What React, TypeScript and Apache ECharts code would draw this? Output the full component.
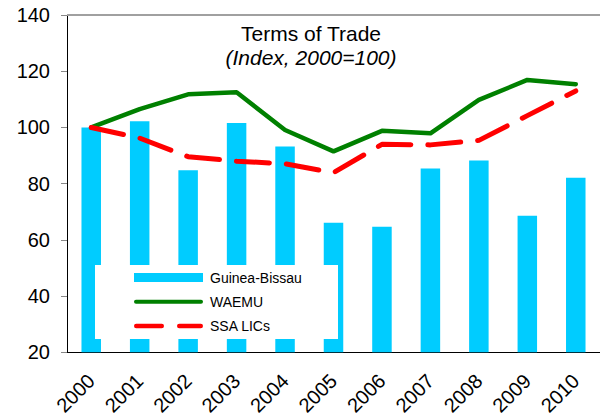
import React, { useEffect, useRef } from "react";
import * as echarts from "echarts";

const years = ["2000", "2001", "2002", "2003", "2004", "2005", "2006", "2007", "2008", "2009", "2010"];
const guineaBissau = [100, 102.2, 84.8, 101.6, 93.2, 66.1, 64.7, 85.4, 88.2, 68.6, 82.1];
const waemu = [100, 106.5, 111.8, 112.5, 99.1, 91.5, 98.8, 97.9, 109.8, 116.9, 115.4];
const ssaLics = [100, 96.2, 89.6, 88.0, 87.1, 83.9, 94.0, 93.8, 95.4, 104.2, 113.0];
const seriesNames = ["Guinea-Bissau", "WAEMU", "SSA LICs"];
const titleText = "Terms of Trade";
const subtitleText = "(Index, 2000=100)";

const FONT = 'Arial, "Liberation Sans", Helvetica, sans-serif';
const BLUE = "#00CCFF";
const GREEN = "#008000";
const RED = "#FF0000";

export default function App() {
  const ref = useRef<HTMLDivElement>(null);
  useEffect(() => {
    if (!ref.current) return;
    const chart = echarts.init(ref.current, undefined, { renderer: "svg" });
    chart.setOption({
      animation: false,
      backgroundColor: "#fff",
      grid: { left: 67, right: 0, top: 15, bottom: 65, containLabel: false },
      xAxis: {
        type: "category",
        data: years,
        boundaryGap: true,
        axisLine: { show: true, lineStyle: { color: "#000", width: 1 } },
        axisTick: { show: false },
        axisLabel: {
          rotate: 45,
          fontSize: 20,
          fontFamily: FONT,
          color: "#000",
          margin: 25,
          interval: 0,
        },
        splitLine: { show: false },
      },
      yAxis: {
        type: "value",
        min: 20,
        max: 140,
        interval: 20,
        axisLine: { show: true, lineStyle: { color: "#000", width: 1 } },
        axisTick: { show: true, length: 6, lineStyle: { color: "#888" } },
        axisLabel: { fontSize: 20, fontFamily: FONT, color: "#000", margin: 17 },
        splitLine: { show: false },
      },
      series: [
        {
          name: seriesNames[0],
          type: "bar",
          data: guineaBissau,
          barWidth: 19.5,
          itemStyle: { color: BLUE },
          z: 1,
          markLine: {
            silent: true,
            symbol: "none",
            label: { show: false },
            lineStyle: { color: "#a0a0a0", width: 2, type: "solid" },
            data: [{ yAxis: 140 }],
          },
        },
        {
          name: seriesNames[1],
          type: "line",
          data: waemu,
          symbol: "none",
          lineStyle: { color: GREEN, width: 4.5, cap: "round", join: "round" },
          itemStyle: { color: GREEN },
          z: 3,
        },
        {
          name: seriesNames[2],
          type: "line",
          data: ssaLics,
          symbol: "none",
          lineStyle: { color: RED, width: 5, type: [33, 17], cap: "round", join: "round" },
          itemStyle: { color: RED },
          z: 4,
        },
      ],
      graphic: [
        {
          type: "text",
          x: 311,
          y: 33,
          z: 100,
          style: {
            text: titleText,
            font: `21px ${FONT}`,
            fill: "#000",
            textAlign: "center",
            textVerticalAlign: "middle",
            align: "center",
            verticalAlign: "middle",
          },
        },
        {
          type: "text",
          x: 311,
          y: 57,
          z: 100,
          style: {
            text: subtitleText,
            font: `italic 21px ${FONT}`,
            fill: "#000",
            textAlign: "center",
            textVerticalAlign: "middle",
            align: "center",
            verticalAlign: "middle",
          },
        },
        {
          type: "group",
          z: 100,
          children: [
            { type: "rect", shape: { x: 95, y: 265, width: 243, height: 74 }, style: { fill: "#fff" }, z: 100 },
            { type: "rect", shape: { x: 134, y: 273, width: 69, height: 9 }, style: { fill: BLUE }, z: 101 },
            {
              type: "line",
              shape: { x1: 136, y1: 301.7, x2: 201, y2: 301.7 },
              style: { stroke: GREEN, lineWidth: 4, lineCap: "round" },
              z: 101,
            },
            {
              type: "line",
              shape: { x1: 136.25, y1: 326, x2: 200.75, y2: 326 },
              style: { stroke: RED, lineWidth: 4.5, lineCap: "round", lineDash: [25.5, 17.5] },
              z: 101,
            },
            {
              type: "text",
              x: 210,
              y: 277.7,
              z: 101,
              style: { text: seriesNames[0], font: `14px ${FONT}`, fill: "#000", verticalAlign: "middle", textVerticalAlign: "middle" },
            },
            {
              type: "text",
              x: 210,
              y: 301.7,
              z: 101,
              style: { text: seriesNames[1], font: `14px ${FONT}`, fill: "#000", verticalAlign: "middle", textVerticalAlign: "middle" },
            },
            {
              type: "text",
              x: 210,
              y: 326,
              z: 101,
              style: { text: seriesNames[2], font: `14px ${FONT}`, fill: "#000", verticalAlign: "middle", textVerticalAlign: "middle" },
            },
          ],
        },
      ],
    });
    return () => chart.dispose();
  }, []);
  return <div ref={ref} style={{ position: "fixed", left: 0, top: 0, width: 600, height: 418 }} />;
}
